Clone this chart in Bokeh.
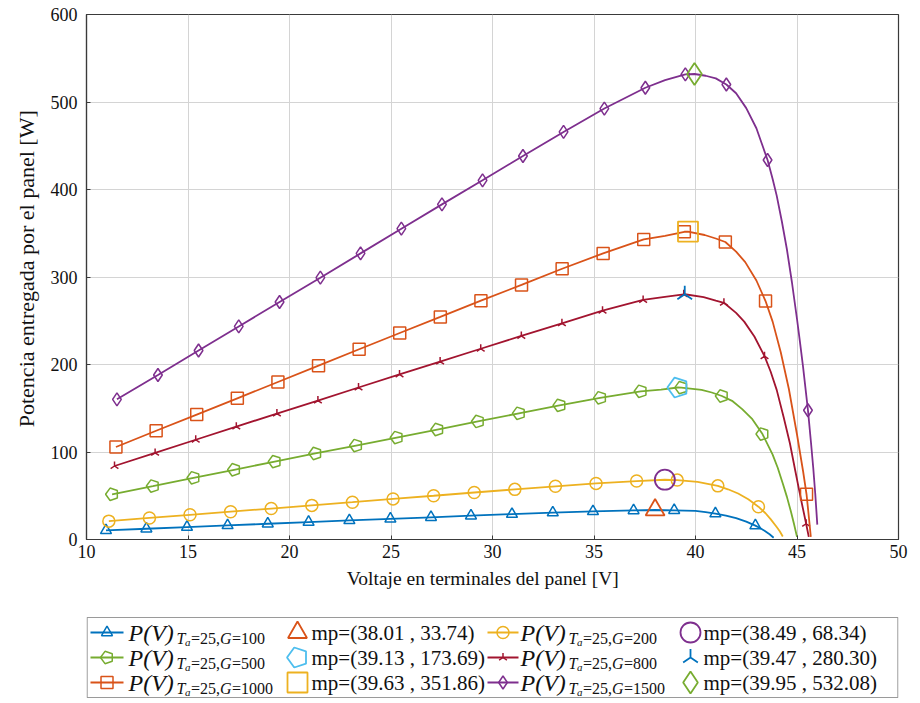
import numpy as np
from bokeh.plotting import figure
from bokeh.layouts import column
from bokeh.models import Range1d, FixedTicker
from bokeh.core.properties import value
from bokeh.embed import file_html
from bokeh.resources import INLINE

# ---------------- data ----------------
# G = 100 W/m2 (markers)
V_G100 = [10.96, 12.95, 14.95, 16.95, 18.93, 20.94, 22.95, 24.97, 26.97, 28.94, 30.96, 32.97, 34.95, 36.95, 38.95, 40.98, 42.95]
P_G100 = [10.4, 12.3, 14.2, 16.1, 18.0, 19.9, 21.8, 23.6, 25.4, 27.2, 29.0, 30.7, 32.1, 33.2, 33.4, 29.6, 15.9]
# extra curve points read along the peak and the knee
VK_G100 = [38.01, 40.0, 40.5, 41.5, 42.0, 42.5, 43.2, 43.4, 43.65, 43.85]
PK_G100 = [33.7, 32.6, 31.2, 27.4, 24.5, 20.5, 12.8, 10.0, 6.0, 2.0]

V_G200 = [11.1, 13.1, 15.1, 17.1, 19.1, 21.1, 23.1, 25.1, 27.1, 29.1, 31.1, 33.1, 35.1, 37.1, 39.1, 41.1, 43.1]
P_G200 = [21.0, 24.6, 28.2, 31.8, 35.4, 39.0, 42.6, 46.4, 50.0, 53.7, 57.3, 60.8, 64.1, 66.8, 67.9, 61.3, 37.5]
VK_G200 = [38.49, 40.1, 40.6, 41.6, 42.1, 42.6, 43.45, 43.7, 44.0, 44.15, 44.3]
PK_G200 = [68.3, 65.8, 63.7, 57.4, 52.6, 46.1, 30.0, 23.3, 14.3, 9.5, 3.5]

V_G500 = [11.26, 13.27, 15.27, 17.27, 19.27, 21.27, 23.28, 25.28, 27.28, 29.28, 31.3, 33.3, 35.3, 37.3, 39.3, 41.3, 43.3]
P_G500 = [51.7, 61.1, 70.5, 79.7, 89.0, 98.3, 107.4, 116.5, 125.7, 134.9, 144.2, 153.3, 161.9, 169.4, 173.6, 164.0, 120.5]
VK_G500 = [38.3, 39.13, 40.3, 40.8, 41.8, 42.3, 42.8, 43.8, 44.05, 44.3, 44.5, 44.7, 44.85, 45.0]
PK_G500 = [171.3, 173.7, 171.0, 168.0, 158.5, 149.0, 137.5, 97.0, 82.0, 64.0, 49.0, 32.0, 18.0, 3.0]

V_G800 = [11.38, 13.38, 15.38, 17.38, 19.38, 21.4, 23.4, 25.42, 27.42, 29.42, 31.42, 33.42, 35.42, 37.42, 39.42, 41.4, 43.4, 45.45]
P_G800 = [84.0, 99.0, 114.0, 129.0, 143.9, 158.8, 173.7, 188.6, 203.3, 218.0, 232.6, 247.1, 261.5, 273.8, 280.2, 270.5, 209.5, 18.0]
VK_G800 = [38.4, 39.47, 40.4, 41.0, 42.0, 42.4, 42.9, 43.7, 44.0, 44.34, 44.65, 44.92, 45.1, 45.25, 45.58]
PK_G800 = [277.0, 280.3, 277.0, 273.0, 259.0, 249.0, 232.0, 192.0, 171.0, 140.0, 110.0, 78.0, 57.0, 40.0, 3.0]

V_G1000 = [11.45, 13.43, 15.43, 17.43, 19.43, 21.43, 23.43, 25.43, 27.43, 29.43, 31.43, 33.43, 35.45, 37.45, 39.45, 41.47, 43.45, 45.47]
P_G1000 = [105.7, 124.3, 142.8, 161.3, 180.0, 198.7, 217.4, 236.0, 254.4, 273.0, 291.0, 309.4, 327.0, 343.0, 351.7, 340.0, 272.5, 51.7]
VK_G1000 = [38.5, 39.63, 40.45, 41.0, 42.0, 42.45, 43.0, 43.8, 44.2, 44.6, 45.0, 45.3, 45.6, 45.68]
PK_G1000 = [347.0, 351.9, 348.0, 344.0, 329.0, 317.0, 296.0, 249.0, 214.0, 172.0, 120.0, 78.0, 22.0, 3.0]

V_G1500 = [11.5, 13.52, 15.52, 17.5, 19.51, 21.52, 23.5, 25.51, 27.51, 29.51, 31.5, 33.5, 35.51, 37.53, 39.5, 41.52, 43.55, 45.54]
P_G1500 = [160.2, 188.0, 216.0, 243.5, 271.4, 299.2, 327.0, 355.2, 383.0, 410.5, 438.3, 465.8, 492.5, 516.3, 531.5, 520.0, 433.7, 147.7]
VK_G1500 = [38.5, 39.95, 40.5, 41.0, 42.0, 42.5, 43.0, 43.8, 44.0, 44.25, 44.5, 44.75, 45.0, 45.15, 45.3, 45.7, 45.8, 45.9, 46.0]
PK_G1500 = [525.0, 532.0, 530.0, 527.0, 510.0, 493.0, 470.0, 412.0, 393.0, 364.0, 332.0, 294.0, 252.0, 225.0, 197.0, 108.0, 82.0, 52.0, 17.0]

# maximum power points
MP_V = [38.01, 38.49, 39.13, 39.47, 39.63, 39.95]
MP_P = [33.74, 68.34, 173.69, 280.30, 351.86, 532.08]

G_LABELS = ["100", "200", "500", "800", "1000", "1500"]
MP_LABELS = ["mp=(38.01 , 33.74)", "mp=(38.49 , 68.34)", "mp=(39.13 , 173.69)",
             "mp=(39.47 , 280.30)", "mp=(39.63 , 351.86)", "mp=(39.95 , 532.08)"]

X_TICKS = [10, 15, 20, 25, 30, 35, 40, 45, 50]
Y_TICKS = [0, 100, 200, 300, 400, 500, 600]

# ---------------- styles ----------------
BLUE, ORANGE, YELLOW = "#0072BD", "#D95319", "#EDB120"
PURPLE, GREEN, CYAN, RED = "#7E2F8E", "#77AC30", "#4DBEEE", "#A2142F"
FONT = "Liberation Serif"
INK = "#111111"
NB = "\u00a0"

series = [
    dict(V=V_G100, P=P_G100, VK=VK_G100, PK=PK_G100, color=BLUE, marker="triangle", size=11),
    dict(V=V_G200, P=P_G200, VK=VK_G200, PK=PK_G200, color=YELLOW, marker="circle", size=12),
    dict(V=V_G500, P=P_G500, VK=VK_G500, PK=PK_G500, color=GREEN, marker="pentagon", size=6.5),
    dict(V=V_G800, P=P_G800, VK=VK_G800, PK=PK_G800, color=RED, marker="y", size=9),
    dict(V=V_G1000, P=P_G1000, VK=VK_G1000, PK=PK_G1000, color=ORANGE, marker="square", size=12),
    dict(V=V_G1500, P=P_G1500, VK=VK_G1500, PK=PK_G1500, color=PURPLE, marker="diamond", size=13),
]
mp_styles = [
    dict(color=ORANGE, marker="triangle", size=19),
    dict(color=PURPLE, marker="circle", size=20),
    dict(color=CYAN, marker="pentagon", size=10.5),
    dict(color=BLUE, marker="y", size=17),
    dict(color=YELLOW, marker="square", size=20),
    dict(color=GREEN, marker="diamond", size=22),
]


def draw_marker(fig, x, y, marker, size, color, lw=1.5):
    if marker == "pentagon":
        try:
            fig.ngon(x=x, y=y, radius=size, radius_units="screen", n=5,
                     angle=np.pi / 2, fill_color=None, line_color=color, line_width=lw)
            return
        except Exception:
            fig.scatter(x=x, y=y, marker="hex", size=size * 2, fill_color=None,
                        line_color=color, line_width=lw)
            return
    angle = np.pi if marker == "y" else 0.0
    fig.scatter(x=x, y=y, marker=marker, size=size, angle=angle, fill_color=None,
                line_color=color, line_width=lw)


# ---------------- main figure ----------------
BL, BR = 86, 14
FIG_W = 912
p = figure(width=FIG_W, height=600, x_range=Range1d(10, 50), y_range=Range1d(0, 600),
           output_backend="svg", toolbar_location=None,
           min_border_left=BL, min_border_right=BR, min_border_top=14, min_border_bottom=61)
p.background_fill_color = "white"
p.border_fill_color = "white"
p.outline_line_color = "#3a3a3a"
p.outline_line_width = 1.2

p.xaxis.ticker = FixedTicker(ticks=X_TICKS)
p.yaxis.ticker = FixedTicker(ticks=Y_TICKS)
p.grid.grid_line_color = "#d4d4d4"
p.grid.grid_line_width = 1
for ax in (p.xaxis, p.yaxis):
    ax.axis_line_color = "#3a3a3a"
    ax.axis_line_width = 1.2
    ax.major_tick_in = 4
    ax.major_tick_out = 0
    ax.major_tick_line_color = "#3a3a3a"
    ax.minor_tick_line_color = None
    ax.major_label_text_font = FONT
    ax.major_label_text_font_size = "18px"
    ax.major_label_text_color = INK
    ax.axis_label_text_font = FONT
    ax.axis_label_text_font_style = "normal"
    ax.axis_label_text_color = INK
p.xaxis.axis_label = "Voltaje en terminales del panel [V]" + NB * 4
p.yaxis.axis_label = NB * 3 + "Potencia entregada por el panel [W]"
p.xaxis.axis_label_text_font_size = "19.5px"
p.yaxis.axis_label_text_font_size = "22px"
p.xaxis.major_label_standoff = 5
p.yaxis.major_label_standoff = 9
p.xaxis.axis_label_standoff = 7
p.yaxis.axis_label_standoff = 9

for s in series:
    pts = sorted(zip(s["V"] + s["VK"], s["P"] + s["PK"]))
    lv = [a for a, b in pts]
    lp = [b for a, b in pts]
    p.line(lv, lp, line_color=s["color"], line_width=1.8)
    draw_marker(p, s["V"], s["P"], s["marker"], s["size"], s["color"])

for i, st in enumerate(mp_styles):
    draw_marker(p, [MP_V[i]], [MP_P[i]], st["marker"], st["size"], st["color"], lw=1.8)

# ---------------- legend (own small figure, page-pixel coordinates) ----------------
LH = 102
L = figure(width=FIG_W, height=LH, x_range=Range1d(BL, FIG_W - BR), y_range=Range1d(LH, 0),
           output_backend="svg", toolbar_location=None,
           min_border_left=BL, min_border_right=BR, min_border_top=0, min_border_bottom=0,
           x_axis_type=None, y_axis_type=None)
L.outline_line_color = None
L.background_fill_color = "white"
L.border_fill_color = "white"
L.quad(left=[86.6], right=[897.4], top=[17], bottom=[97], fill_color=None,
       line_color="#9a9a9a", line_width=1.2)

rows = [32, 57, 82]
col_line = [(90, 123, 106.5), (487, 518, 502.5)]
col_ptext = [128, 520]
col_mp = [(297, 311), (690, 703)]

KW = dict(text_font=value(FONT), text_align="left", text_color=INK)


def ptext(fig, x0, y, g):
    fig.text(x=[x0], y=[y], text=["P(V)"], text_font_size="24px",
             text_font_style="italic", text_baseline="middle", **KW)
    s0 = x0 + 48
    ys = y + 6
    fig.text(x=[s0], y=[ys], text=["T"], text_font_size="16px", text_font_style="italic",
             text_baseline="middle", **KW)
    fig.text(x=[s0 + 8.5], y=[ys + 3], text=["a"], text_font_size="11px", text_font_style="italic",
             text_baseline="middle", **KW)
    fig.text(x=[s0 + 14.5], y=[ys], text=["=25,"], text_font_size="16px",
             text_baseline="middle", **KW)
    fig.text(x=[s0 + 43.5], y=[ys], text=["G"], text_font_size="16px", text_font_style="italic",
             text_baseline="middle", **KW)
    fig.text(x=[s0 + 55.5], y=[ys], text=["=" + g], text_font_size="16px",
             text_baseline="middle", **KW)


for k in range(6):
    r, c = k // 2, k % 2
    y = rows[r]
    s = series[k]
    x1, x2, xm = col_line[c]
    L.line([x1, x2], [y, y], line_color=s["color"], line_width=1.8)
    draw_marker(L, [xm], [y], s["marker"], s["size"], s["color"])
    ptext(L, col_ptext[c], y, G_LABELS[k])
    mx, tx = col_mp[c]
    st = mp_styles[k]
    draw_marker(L, [mx], [y], st["marker"], st["size"], st["color"], lw=1.8)
    L.text(x=[tx], y=[y], text=[MP_LABELS[k]], text_font_size="21px",
           text_baseline="middle", **KW)

layout = column(p, L, spacing=0)
open("out.html", "w").write(file_html(layout, INLINE))
